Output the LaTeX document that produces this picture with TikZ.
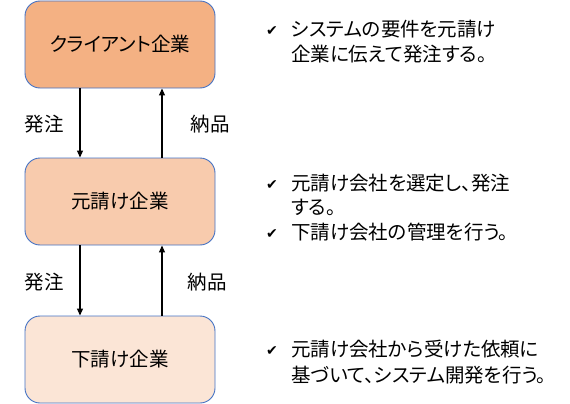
\documentclass[tikz,border=0pt]{standalone}
\usepackage{fontspec}
\setmainfont{Noto Sans CJK JP}[RawFeature=+palt]
\newfontfamily\symfont{DejaVu Sans}
\usetikzlibrary{arrows.meta}
\definecolor{bordercol}{HTML}{4472C4}
\definecolor{fillA}{HTML}{F4B183}
\definecolor{fillB}{HTML}{F8CBAD}
\definecolor{fillC}{HTML}{FBE5D6}
\tikzset{
  company/.style={draw=bordercol, line width=0.9pt, rounded corners=15pt,
    minimum width=190pt, minimum height=87pt, inner sep=0pt,
    font=\fontsize{19.5}{22}\selectfont},
  flow/.style={line width=1.1pt, -{Triangle[length=7pt,width=6pt]}},
  lbl/.style={font=\fontsize{19.5}{22}\selectfont, inner sep=0pt},
  line/.style={font=\fontsize{19.5}{22}\selectfont, inner sep=0pt, anchor=base west},
  chk/.style={font=\symfont\fontsize{14}{18}\selectfont, inner sep=0pt, anchor=base west},
}
\begin{document}
\begin{tikzpicture}[x=1pt,y=-1pt]
\useasboundingbox (0,0) rectangle (570,404);
\node[company, fill=fillA] (client) at (120,44.5) {クライアント企業};
\node[company, fill=fillB] (prime) at (120,201.5) {元請け企業};
\node[company, fill=fillC] (sub) at (120,359.5) {下請け企業};

\draw[flow] (client.south -| 80,0) -- (prime.north -| 80,0);
\draw[flow] (prime.north -| 162,0) -- (client.south -| 162,0);
\draw[flow] (prime.south -| 80,0) -- (sub.north -| 80,0);
\draw[flow] (sub.north -| 162,0) -- (prime.south -| 162,0);

\node[lbl] (o1) at (44,124) {発注};
\node[lbl] (d1) at (210,124) {納品};
\node[lbl] (o2) at (44,282) {発注};
\node[lbl] (d2) at (207,282) {納品};

\node[chk] (c1) at (266,36) {✔};
\node[line] (t1a) at (291,37) {システムの要件を元請け};
\node[line] (t1b) at (291,62) {企業に伝えて発注する。};

\node[chk] (c2) at (266,189) {✔};
\node[line] (t2a) at (291,190) {元請け会社を選定し、発注};
\node[line] (t2b) at (291,214) {する。};
\node[chk] (c3) at (266,238) {✔};
\node[line] (t3a) at (291,239) {下請け会社の管理を行う。};

\node[chk] (c4) at (266,355) {✔};
\node[line] (t4a) at (291,356) {元請け会社から受けた依頼に};
\node[line] (t4b) at (291,382) {基づいて、システム開発を行う。};
\end{tikzpicture}
\end{document}
